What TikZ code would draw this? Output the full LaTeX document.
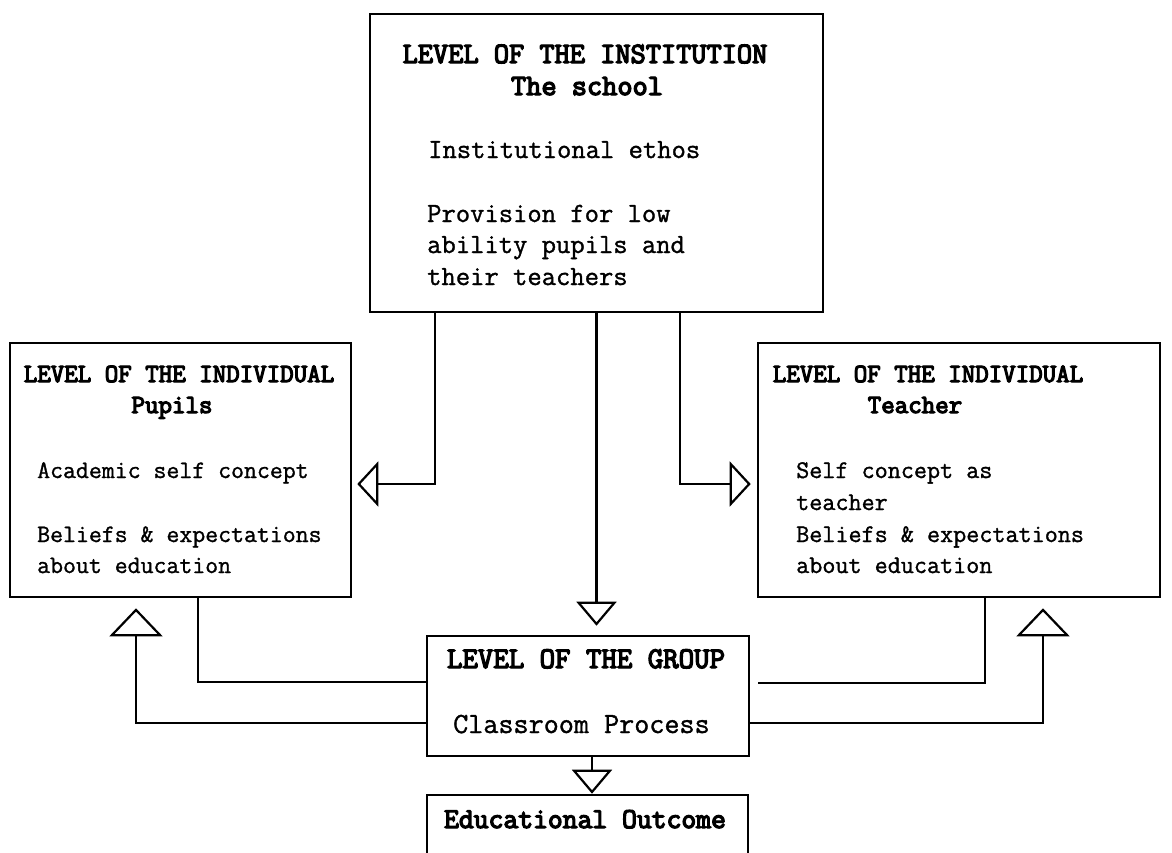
\documentclass[tikz,border=0pt]{standalone}
\usepackage{fontspec}
\usetikzlibrary{arrows.meta}
% typewriter faces: a heavy one for headings, a slightly inked one for body text
\newfontfamily\headfont{Latin Modern Mono}[FakeBold=4.5]
\newfontfamily\bodyfont{Latin Modern Mono}[FakeBold=1.2]

\begin{document}
\begin{tikzpicture}[x=1pt, y=-1pt,
  lvlbox/.style={draw, line width=2.6pt, inner sep=0pt},
  link/.style={line width=2.2pt},
  tipside/.style={-{Triangle[open, length=21pt, width=45pt, line width=2.2pt]}},
  tipdown/.style={-{Triangle[open, length=24pt, width=40pt, line width=2.2pt]}},
  tipup/.style={-{Triangle[open, length=28pt, width=53pt, line width=2.2pt]}},
  head/.style={anchor=base, inner sep=0pt, font=\headfont\fontsize{#1}{#1}\selectfont},
  head/.default=26,
  body/.style={anchor=base west, inner sep=0pt, font=\bodyfont\fontsize{#1}{#1}\selectfont},
  body/.default=25
]
\useasboundingbox (0,0) rectangle (1172,852);
\clip (0,0) rectangle (1172,852);

% boxes
\node[lvlbox, minimum width=453pt, minimum height=298pt] (inst) at (596.5,163) {};
\node[lvlbox, minimum width=341pt, minimum height=254pt] (pupils) at (180.5,470) {};
\node[lvlbox, minimum width=402pt, minimum height=254pt] (teacher) at (959,470) {};
\node[lvlbox, minimum width=322pt, minimum height=120pt] (group) at (588,696) {};
\node[lvlbox, minimum width=321pt, minimum height=100pt] (outcome) at (587.5,845) {};

% institution text
\node[head=29.5] (instH) at (585,63) {LEVEL OF THE INSTITUTION};
\node[head=29.5] (instS) at (587,95) {The school};
\node[body=27.8] (instA) at (428,158) {Institutional ethos};
\node[body=27.8] (instB) at (427,222) {Provision for low};
\node[body=27.8] (instC) at (427,253) {ability pupils and};
\node[body=27.8] (instD) at (427,285) {their teachers};

% pupils text
\node[head=26.2] (pupH) at (179,382) {LEVEL OF THE INDIVIDUAL};
\node[head=26.2] (pupS) at (172,413) {Pupils};
\node[body=25.1] (pupA) at (37,478) {Academic self concept};
\node[body=25.1] (pupB) at (37,542) {Beliefs \& expectations};
\node[body=25.1] (pupC) at (37,573) {about education};

% teacher text
\node[head=26.2] (teaH) at (928,382) {LEVEL OF THE INDIVIDUAL};
\node[head=26.2] (teaS) at (915,413) {Teacher};
\node[body=25.4] (teaA) at (796,478) {Self concept as};
\node[body=25.4] (teaB) at (796,510) {teacher};
\node[body=25.4] (teaC) at (796,542) {Beliefs \& expectations};
\node[body=25.4] (teaD) at (796,573) {about education};

% group and outcome text
\node[head=30] (grpH) at (586,668) {LEVEL OF THE GROUP};
\node[body=29.3] (grpA) at (453,733) {Classroom Process};
\node[head=28.8] (outH) at (585,828) {Educational Outcome};

% connectors from the institution
\draw[link, tipside, shorten >=5pt] ([xshift=-161.5pt]inst.south) |- ([yshift=-14pt]pupils.east);
\draw[link, tipside, shorten >=6pt] ([xshift=83.5pt]inst.south) |- ([yshift=-14pt]teacher.west);
\draw[link, tipdown, shorten >=9pt] (inst.south) -- (inst.south |- group.north);

% exchanges between the individuals and the group
\draw[link] ([xshift=17.5pt]pupils.south) |- ([yshift=14pt]group.west);
\draw[link, tipup, shorten >=10pt] ([yshift=-27pt]group.west) -| ([xshift=-44.5pt]pupils.south);
\draw[link, shorten >=8pt] ([xshift=26pt]teacher.south) |- ([yshift=13pt]group.east);
\draw[link, tipup, shorten >=10pt] ([yshift=-27pt]group.east) -| ([xshift=84pt]teacher.south);

% group to outcome
\draw[link, tipdown] ([xshift=4pt]group.south) -- ([xshift=4pt]group.south |- outcome.north);
\end{tikzpicture}
\end{document}
